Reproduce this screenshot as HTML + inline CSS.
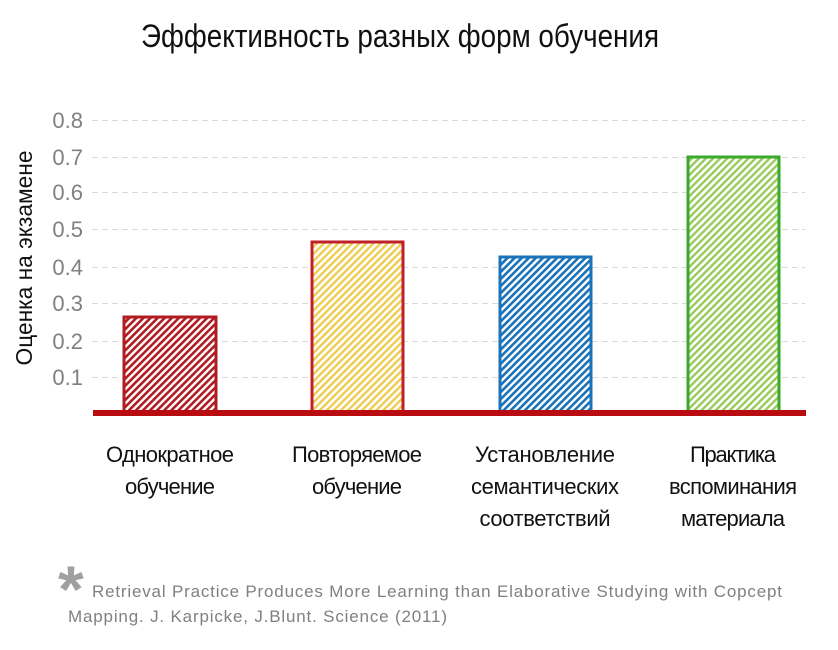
<!DOCTYPE html>
<html><head><meta charset="utf-8"><style>
body{margin:0;background:#fff;width:838px;height:650px;overflow:hidden}
svg{display:block}
</style></head><body>
<svg width="838" height="650" xmlns="http://www.w3.org/2000/svg" font-family="'Liberation Sans', sans-serif">
<defs>
<pattern id="pr" width="5" height="5" patternUnits="userSpaceOnUse" patternTransform="rotate(45)"><rect width="5" height="5" fill="#fff"/><rect width="2.6" height="5" fill="#b01c22"/></pattern>
<pattern id="py" width="5" height="5" patternUnits="userSpaceOnUse" patternTransform="rotate(45)"><rect width="5" height="5" fill="#fff"/><rect width="2.4" height="5" fill="#f0cc50"/></pattern>
<pattern id="pb" width="5" height="5" patternUnits="userSpaceOnUse" patternTransform="rotate(45)"><rect width="5" height="5" fill="#fff"/><rect width="2.6" height="5" fill="#1a72b8"/></pattern>
<pattern id="pg" width="5" height="5" patternUnits="userSpaceOnUse" patternTransform="rotate(45)"><rect width="5" height="5" fill="#fff"/><rect width="2.4" height="5" fill="#96cc5a"/></pattern>
</defs>
<text x="141" y="47" font-size="32" textLength="518" lengthAdjust="spacingAndGlyphs" fill="#111">Эффективность разных форм обучения</text>
<g stroke="#d8d8d8" stroke-width="1" stroke-dasharray="6,4">
<line x1="92" x2="805" y1="120.5" y2="120.5"/><line x1="92" x2="805" y1="157.5" y2="157.5"/>
<line x1="92" x2="805" y1="192.5" y2="192.5"/><line x1="92" x2="805" y1="229.5" y2="229.5"/>
<line x1="92" x2="805" y1="267.5" y2="267.5"/><line x1="92" x2="805" y1="303.5" y2="303.5"/>
<line x1="92" x2="805" y1="341.5" y2="341.5"/><line x1="92" x2="805" y1="377.5" y2="377.5"/>
</g>
<g font-size="22" fill="#808080" text-anchor="end">
<text x="83" y="128">0.8</text><text x="83" y="165">0.7</text><text x="83" y="200">0.6</text>
<text x="83" y="237">0.5</text><text x="83" y="275">0.4</text><text x="83" y="311">0.3</text>
<text x="83" y="349">0.2</text><text x="83" y="385">0.1</text>
</g>
<text transform="translate(32,258) rotate(-90)" font-size="23" text-anchor="middle" textLength="215" lengthAdjust="spacingAndGlyphs" fill="#111">Оценка на экзамене</text>
<rect x="124" y="317" width="92" height="96" fill="url(#pr)" stroke="#b01c22" stroke-width="3"/>
<rect x="312" y="242" width="91" height="171" fill="url(#py)" stroke="#c0202a" stroke-width="3"/>
<rect x="500" y="257" width="91" height="156" fill="url(#pb)" stroke="#1a72b8" stroke-width="3"/>
<rect x="688" y="157" width="91" height="256" fill="url(#pg)" stroke="#3aa82a" stroke-width="3"/>
<line x1="93" x2="806" y1="413" y2="413" stroke="#b80c10" stroke-width="6"/>
<g font-size="22" fill="#111" text-anchor="middle" lengthAdjust="spacingAndGlyphs">
<text x="170" y="462" textLength="128">Однократное</text><text x="170" y="494" textLength="90">обучение</text>
<text x="357" y="462" textLength="130">Повторяемое</text><text x="357" y="494" textLength="90">обучение</text>
<text x="545" y="462" textLength="140">Установление</text><text x="545" y="494" textLength="148">семантических</text><text x="545" y="526" textLength="131">соответствий</text>
<text x="733" y="462" textLength="86">Практика</text><text x="733" y="494" textLength="128">вспоминания</text><text x="733" y="526" textLength="104">материала</text>
</g>
<text x="58" y="612" font-size="66" fill="#a0a0a0" font-weight="bold">*</text>
<g font-size="17" fill="#808080" lengthAdjust="spacingAndGlyphs">
<text x="92" y="597" textLength="690">Retrieval Practice Produces More Learning than Elaborative Studying with Copcept</text>
<text x="68" y="622" textLength="379">Mapping. J. Karpicke, J.Blunt. Science (2011)</text>
</g>
</svg>
</body></html>
